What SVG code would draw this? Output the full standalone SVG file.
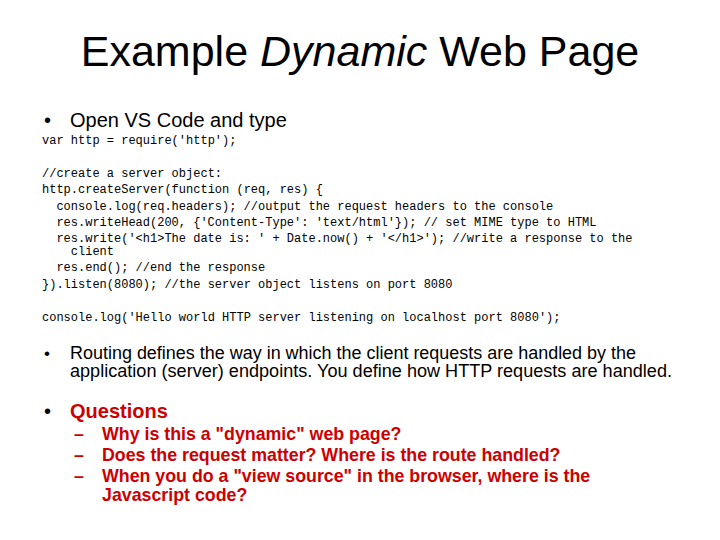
<svg xmlns="http://www.w3.org/2000/svg" width="720" height="540" viewBox="0 0 720 540">
<style>
.t{font-family:"Liberation Sans",Arial,sans-serif;fill:#000}
.c{font-family:"Liberation Mono","Courier New",monospace;font-size:12px;fill:#000}
.r{font-family:"Liberation Sans",Arial,sans-serif;fill:#cc0000;font-weight:bold}
</style>
<rect width="720" height="540" fill="#fff"/>
<text class="t" x="360" y="66" font-size="43" text-anchor="middle">Example <tspan font-style="italic">Dynamic</tspan> Web Page</text>
<text class="t" x="44" y="127" font-size="20">•</text>
<text class="t" x="70" y="127" font-size="20">Open VS Code and type</text>
<g class="c">
<text x="42" y="144">var http = require('http');</text>
<text x="42" y="177">//create a server object:</text>
<text x="42" y="193">http.createServer(function (req, res) {</text>
<text x="56.4" y="210">console.log(req.headers); //output the request headers to the console</text>
<text x="56.4" y="226">res.writeHead(200, {'Content-Type': 'text/html'}); // set MIME type to HTML</text>
<text x="56.4" y="242">res.write('&lt;h1&gt;The date is: ' + Date.now() + '&lt;/h1&gt;'); //write a response to the</text>
<text x="70.8" y="255">client</text>
<text x="56.4" y="271">res.end(); //end the response</text>
<text x="42" y="288">}).listen(8080); //the server object listens on port 8080</text>
<text x="42" y="321">console.log('Hello world HTTP server listening on localhost port 8080');</text>
</g>
<text class="t" x="44" y="359" font-size="17">•</text>
<text class="t" x="70" y="359" font-size="17.5" textLength="566" lengthAdjust="spacingAndGlyphs">Routing defines the way in which the client requests are handled by the</text>
<text class="t" x="70" y="377" font-size="17.5" textLength="602" lengthAdjust="spacingAndGlyphs">application (server) endpoints. You define how HTTP requests are handled.</text>
<text class="t" x="44" y="418" font-size="20">•</text>
<text class="r" x="70" y="418" font-size="20" font-weight="normal">Questions</text>
<g class="r" font-size="17.8">
<text x="74" y="440">–</text><text x="102" y="440">Why is this a "dynamic" web page?</text>
<text x="74" y="461">–</text><text x="102" y="461">Does the request matter? Where is the route handled?</text>
<text x="74" y="482">–</text><text x="102" y="482">When you do a "view source" in the browser, where is the</text>
<text x="102" y="501">Javascript code?</text>
</g>
</svg>
